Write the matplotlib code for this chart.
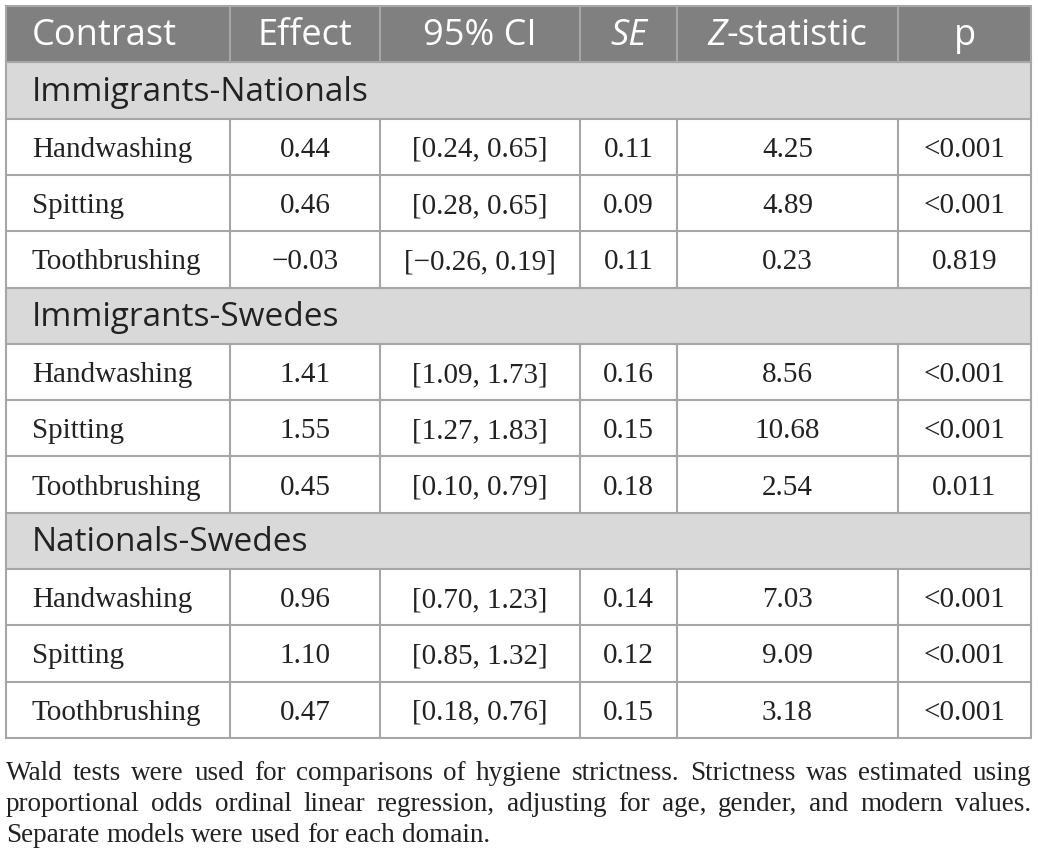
import matplotlib
matplotlib.use("Agg")
import matplotlib.pyplot as plt
from matplotlib.patches import Rectangle

# table content
columns = ["Contrast", "Effect", "95% CI", "SE", "Z-statistic", "p"]
groups = ["Immigrants-Nationals", "Immigrants-Swedes", "Nationals-Swedes"]
domains = ["Handwashing", "Spitting", "Toothbrushing"]
effect = [[0.44, 0.46, -0.03], [1.41, 1.55, 0.45], [0.96, 1.10, 0.47]]
ci_low = [[0.24, 0.28, -0.26], [1.09, 1.27, 0.10], [0.70, 0.85, 0.18]]
ci_high = [[0.65, 0.65, 0.19], [1.73, 1.83, 0.79], [1.23, 1.32, 0.76]]
se = [[0.11, 0.09, 0.11], [0.16, 0.15, 0.18], [0.14, 0.12, 0.15]]
zstat = [[4.25, 4.89, 0.23], [8.56, 10.68, 2.54], [7.03, 9.09, 3.18]]
pval = [["<0.001", "<0.001", "0.819"], ["<0.001", "<0.001", "0.011"],
        ["<0.001", "<0.001", "<0.001"]]
footnote = ("Wald tests were used for comparisons of hygiene strictness. Strictness was estimated using "
            "proportional odds ordinal linear regression, adjusting for age, gender, and modern values. "
            "Separate models were used for each domain.")

W, H = 1038, 866
fig = plt.figure(figsize=(W/100, H/100), dpi=100)
ax = fig.add_axes([0, 0, 1, 1])
ax.set_xlim(0, W)
ax.set_ylim(H, 0)
ax.axis('off')

edges = [6, 230, 380, 580, 677, 898, 1031]
top = 6
rh = 56.3
grid_c = '#a6a6a6'
sans = 'Open Sans'
serif = 'Liberation Serif'
hsize = 26
gsize = 24
dsize = 21
dshift = 3  # data text sits a little below the row middle
sshift = 2  # same for the sans header/group text


def fmt(v):
    s = f"{abs(v):.2f}"
    return ("\u2212" + s) if v < 0 else s


renderer = fig.canvas.get_renderer()

# header
ax.add_patch(Rectangle((edges[0], top), edges[-1]-edges[0], rh, fc='#808080', ec='none'))
for i, name in enumerate(columns):
    yc = top + rh/2 + sshift
    if i == 0:
        ax.text(edges[0]+26, yc, name, color='white', fontsize=hsize, family=sans,
                ha='left', va='center')
        continue
    xc = (edges[i]+edges[i+1])/2
    if name == "SE":
        ax.text(xc, yc, name, color='white', fontsize=hsize, family=sans,
                style='italic', ha='center', va='center')
    elif name == "Z-statistic":
        t1 = ax.text(0, 0, "Z", fontsize=hsize, family=sans, style='italic')
        t2 = ax.text(0, 0, "-statistic", fontsize=hsize, family=sans)
        w1 = t1.get_window_extent(renderer).width
        w2 = t2.get_window_extent(renderer).width
        t1.remove()
        t2.remove()
        x0 = xc - (w1+w2)/2
        ax.text(x0, yc, "Z", color='white', fontsize=hsize, family=sans,
                style='italic', ha='left', va='center')
        ax.text(x0+w1, yc, "-statistic", color='white', fontsize=hsize, family=sans,
                ha='left', va='center')
    else:
        ax.text(xc, yc, name, color='white', fontsize=hsize, family=sans,
                ha='center', va='center')

row = 1
for g, grp in enumerate(groups):
    y0 = top + row*rh
    ax.add_patch(Rectangle((edges[0], y0), edges[-1]-edges[0], rh, fc='#d9d9d9', ec='none'))
    ax.text(edges[0]+26, y0+rh/2+sshift, grp, color='#222222', fontsize=gsize, family=sans,
            ha='left', va='center')
    ax.plot([edges[0], edges[-1]], [y0, y0], color=grid_c, lw=1.5)
    row += 1
    for d, dom in enumerate(domains):
        y0 = top + row*rh
        yc = y0 + rh/2 + dshift
        cells = [dom, fmt(effect[g][d]),
                 f"[{fmt(ci_low[g][d])}, {fmt(ci_high[g][d])}]",
                 fmt(se[g][d]), fmt(zstat[g][d]), pval[g][d]]
        for i, c in enumerate(cells):
            if i == 0:
                ax.text(edges[0]+26, yc, c, color='#222222', fontsize=dsize, family=serif,
                        ha='left', va='center')
            else:
                ax.text((edges[i]+edges[i+1])/2, yc, c, color='#222222', fontsize=dsize,
                        family=serif, ha='center', va='center')
        ax.plot([edges[0], edges[-1]], [y0, y0], color=grid_c, lw=1.5)
        for x in edges[1:-1]:
            ax.plot([x, x], [y0, y0+rh], color=grid_c, lw=1.5)
        row += 1

bottom = top + row*rh
# header dividers and outer border
for x in edges[1:-1]:
    ax.plot([x, x], [top, top+rh], color=grid_c, lw=1.5)
ax.plot([edges[0], edges[-1]], [top+rh, top+rh], color=grid_c, lw=1.5)
ax.add_patch(Rectangle((edges[0], top), edges[-1]-edges[0], bottom-top, fc='none',
                       ec=grid_c, lw=1.5))

# justified footnote
words = footnote.split()
fsize = 19.5
widths = []
for w in words:
    t = ax.text(0, 0, w, fontsize=fsize, family=serif)
    widths.append(t.get_window_extent(renderer).width)
    t.remove()
sp = ax.text(0, 0, "a b", fontsize=fsize, family=serif)
space = sp.get_window_extent(renderer).width
sp.remove()
t = ax.text(0, 0, "ab", fontsize=fsize, family=serif)
space -= t.get_window_extent(renderer).width
t.remove()

line_w = edges[-1] - edges[0]
lines = []
cur = []
cur_w = 0
for w, wd in zip(words, widths):
    add = wd if not cur else cur_w + space + wd
    if cur and add > line_w:
        lines.append(cur)
        cur = [(w, wd)]
        cur_w = wd
    else:
        cur.append((w, wd))
        cur_w = add
lines.append(cur)

fy = 773
for li, ln in enumerate(lines):
    last = li == len(lines)-1
    total = sum(wd for _, wd in ln)
    gap = space if (last or len(ln) < 2) else (line_w - total)/(len(ln)-1)
    x = edges[0]
    for w, wd in ln:
        ax.text(x, fy, w, fontsize=fsize, family=serif, color='#222222',
                ha='left', va='center')
        x += wd + gap
    fy += 31.5

fig.savefig("out.png", dpi=100)
